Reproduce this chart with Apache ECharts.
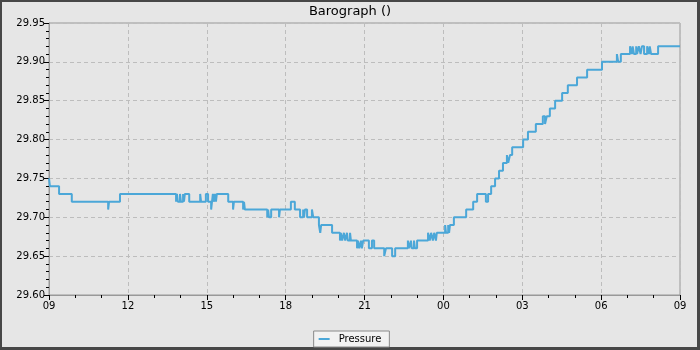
<!DOCTYPE html>
<html>
<head>
<meta charset="utf-8">
<script src="https://cdn.jsdelivr.net/npm/echarts@6/dist/echarts.min.js"></script>
<style>
html,body{margin:0;padding:0;background:#e6e6e6;}
#chart{width:700px;height:350px;}
</style>
</head>
<body>
<div id="chart"></div>
<script>
// Tick labels (hour of day), starting at 09:00
const hourLabels = ["09", "12", "15", "18", "21", "00", "03", "06", "09"];
// Observation times (HH:MM), from 09:00 through 09:00 next day
const times = [
  "09:00","09:02","09:23","09:52","11:15","11:17","11:42","13:50","13:52","13:54",
  "13:59","14:01","14:06","14:08","14:10","14:20","14:45","14:47","14:58","15:03",
  "15:10","15:12","15:14","15:17","15:19","15:21","15:23","15:49","16:00","16:02",
  "16:23","16:25","16:27","17:18","17:20","17:22","17:27","17:45","17:47","18:12",
  "18:21","18:33","18:40","18:42","18:44","18:49","19:00","19:03","19:16","19:19",
  "19:21","19:46","20:04","20:06","20:09","20:13","20:16","20:20","20:22","20:27",
  "20:29","20:43","20:45","20:48","20:52","20:54","20:57","21:10","21:17","21:22",
  "21:45","21:49","22:03","22:10","22:39","22:42","22:46","22:48","22:53","22:55",
  "23:00","23:25","23:29","23:32","23:36","23:39","23:43","23:45","00:04","00:06",
  "00:11","00:13","00:15","00:24","00:52","01:08","01:17","01:37","01:42","01:49",
  "01:58","02:07","02:16","02:25","02:28","02:32","02:37","03:02","03:13","03:31",
  "03:47","03:52","03:56","04:03","04:15","04:31","04:44","05:05","05:28","06:02",
  "06:36","06:39","06:45","07:06","07:10","07:12","07:15","07:20","07:22","07:26",
  "07:30","07:33","07:38","07:45","07:49","07:51","07:54","08:10","09:00"
];
// Pressure readings (inHg)
const pressure = [
  29.75,29.74,29.73,29.72,29.71,29.72,29.73,29.72,29.73,29.72,
  29.73,29.72,29.73,29.72,29.73,29.72,29.73,29.72,29.73,29.72,
  29.71,29.72,29.73,29.72,29.73,29.72,29.73,29.72,29.71,29.72,
  29.71,29.72,29.71,29.70,29.71,29.70,29.71,29.70,29.71,29.72,
  29.71,29.70,29.71,29.70,29.71,29.70,29.71,29.70,29.69,29.68,
  29.69,29.68,29.67,29.68,29.67,29.68,29.67,29.68,29.67,29.68,
  29.67,29.66,29.67,29.66,29.67,29.66,29.67,29.66,29.67,29.66,
  29.65,29.66,29.65,29.66,29.67,29.66,29.67,29.66,29.67,29.66,
  29.67,29.68,29.67,29.68,29.67,29.68,29.67,29.68,29.69,29.68,
  29.69,29.68,29.69,29.70,29.71,29.72,29.73,29.72,29.73,29.74,
  29.75,29.76,29.77,29.78,29.77,29.78,29.79,29.80,29.81,29.82,
  29.83,29.82,29.83,29.84,29.85,29.86,29.87,29.88,29.89,29.90,
  29.91,29.90,29.91,29.92,29.91,29.92,29.91,29.92,29.91,29.92,
  29.91,29.92,29.91,29.92,29.91,29.92,29.91,29.92,29.92
];

// convert HH:MM to hours elapsed since 09:00 (monotonic across midnight)
const seriesData = [];
let prev = -1, dayOffset = 0;
for (let i = 0; i < times.length; i++) {
  const [hh, mm] = times[i].split(':').map(Number);
  let h = hh + mm / 60 - 9 + dayOffset;
  if (h < prev) { dayOffset += 24; h += 24; }
  prev = h;
  seriesData.push([h, pressure[i]]);
}

const chart = echarts.init(document.getElementById('chart'), null, {renderer: 'canvas'});
const font = 'DejaVu Sans';
chart.setOption({
  backgroundColor: '#e6e6e6',
  animation: false,
  textStyle: {fontFamily: font},
  graphic: [
    {type: 'rect', z: -10, silent: true, shape: {x: 0, y: 0, width: 700, height: 350}, style: {fill: '#474747'}},
    {type: 'rect', z: -9, silent: true, shape: {x: 2, y: 2, width: 695, height: 345}, style: {fill: '#e6e6e6'}}
  ],
  title: {
    text: 'Barograph ()',
    left: 'center',
    top: 0,
    textStyle: {fontFamily: font, fontSize: 13, fontWeight: 'normal', color: '#000'}
  },
  legend: {
    data: [{name: 'Pressure', icon: 'rect'}],
    bottom: 3,
    left: 'center',
    itemWidth: 11,
    itemHeight: 2,
    itemGap: 5,
    padding: [3, 8, 3, 5],
    backgroundColor: '#f2f2f2',
    borderColor: '#8a8a8a',
    borderWidth: 1,
    borderRadius: 0,
    textStyle: {fontFamily: font, fontSize: 10, color: '#000', padding: [0, 0, 0, 4]}
  },
  grid: {
    left: 49, right: 20, top: 23, bottom: 55,
    show: true, borderColor: '#999', borderWidth: 1, backgroundColor: 'transparent'
  },
  xAxis: {
    type: 'value',
    min: 0, max: 24, interval: 3,
    axisLine: {show: true, lineStyle: {color: '#999'}},
    axisTick: {show: true, length: 5, lineStyle: {color: '#000'}},
    minorTick: {show: true, splitNumber: 3, length: 3, lineStyle: {color: '#000'}},
    axisLabel: {
      fontFamily: font, fontSize: 10, color: '#000', margin: 6,
      formatter: function (v) { return hourLabels[Math.round(v / 3)]; }
    },
    splitLine: {show: true, lineStyle: {color: '#bdbdbd', type: [4, 3]}}
  },
  yAxis: {
    type: 'value',
    min: 29.60, max: 29.95, interval: 0.05,
    axisLine: {show: true, lineStyle: {color: '#999'}},
    axisTick: {show: true, length: 5, lineStyle: {color: '#000'}},
    minorTick: {show: true, splitNumber: 5, length: 3, lineStyle: {color: '#000'}},
    axisLabel: {
      fontFamily: font, fontSize: 10, color: '#000', margin: 4,
      formatter: function (v) { return v.toFixed(2); }
    },
    splitLine: {show: true, lineStyle: {color: '#bdbdbd', type: [4, 3]}}
  },
  series: [{
    name: 'Pressure',
    type: 'line',
    step: 'end',
    showSymbol: false,
    symbol: 'none',
    data: seriesData,
    lineStyle: {color: '#4ba7d8', width: 2},
    itemStyle: {color: '#4ba7d8'}
  }]
});
</script>
</body>
</html>
